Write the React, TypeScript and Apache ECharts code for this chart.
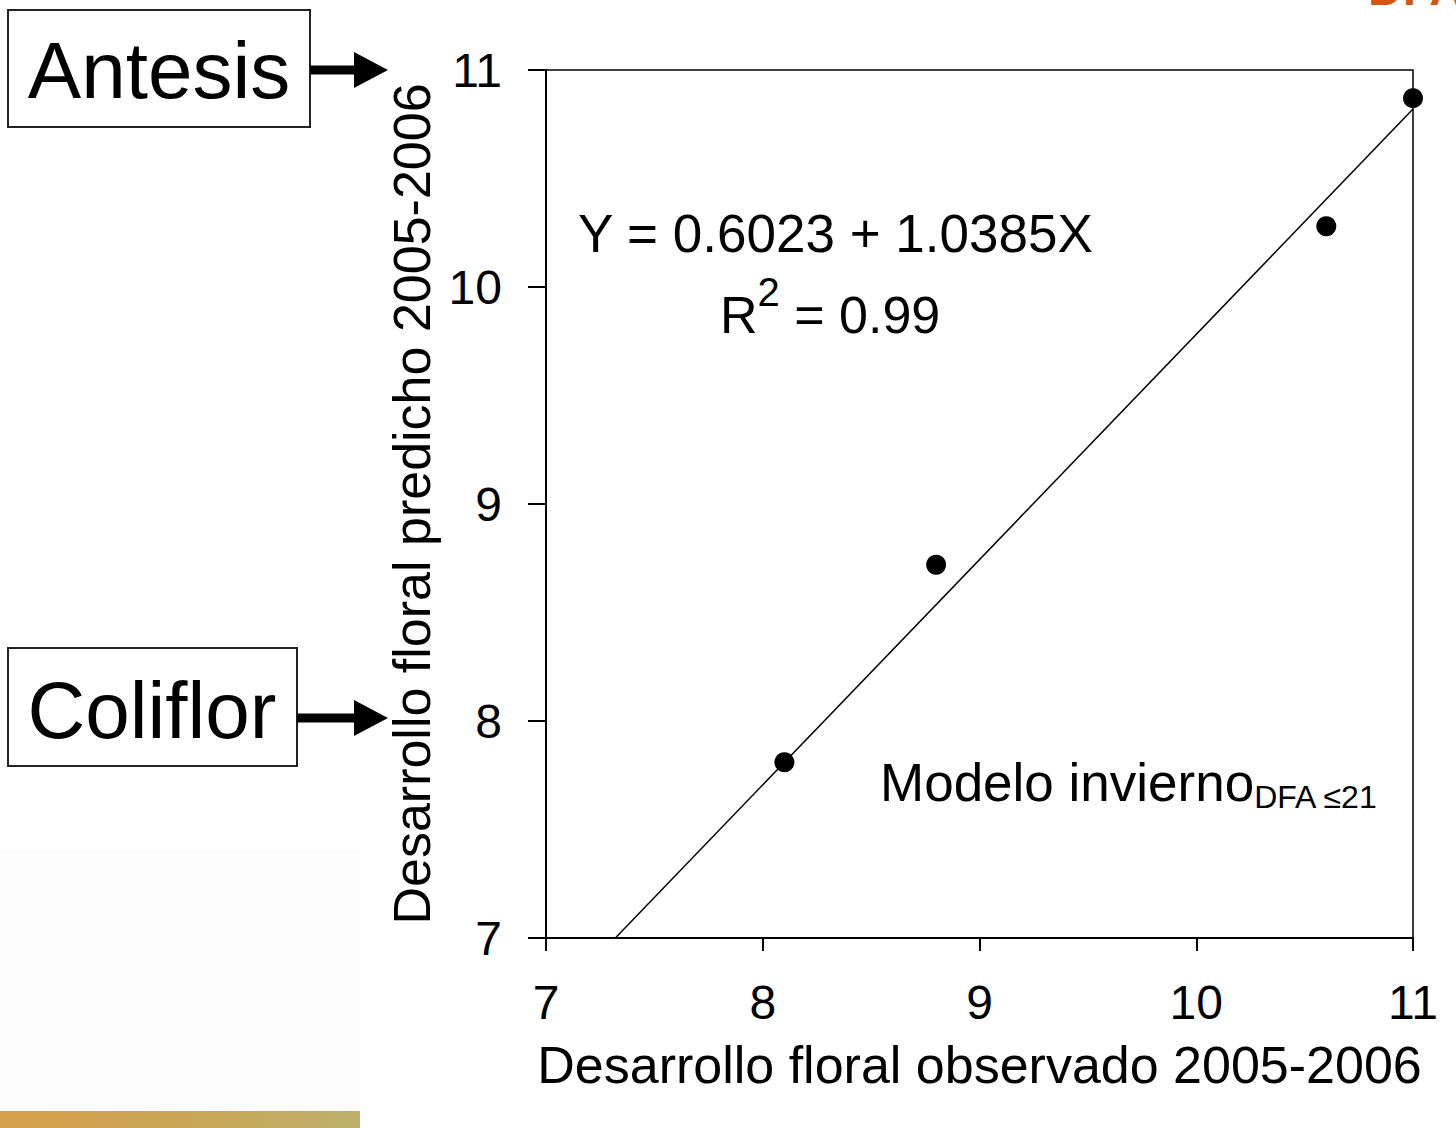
import React, { useEffect, useRef } from "react";
import * as echarts from "echarts";

// ---- data ----
const observed = [8.1, 8.8, 10.6, 11.0];
const predicted = [7.81, 8.72, 10.28, 10.87];
const fitX = [7.32, 11.0];
const fitY = [7.0, 10.82];
const axisMin = 7;
const axisMax = 11;
const axisStep = 1;
const equationText = "Y = 0.6023 + 1.0385X";
const r2Value = "0.99";
const modelLabel = "Modelo invierno";
const modelSub = "DFA ≤21";
const xTitle = "Desarrollo floral observado 2005-2006";
const yTitle = "Desarrollo floral predicho 2005-2006";
const calloutLabels = ["Antesis", "Coliflor"];
const cornerText = "DFA";

const FONT = "'Liberation Sans', Arial, sans-serif";

export default function App() {
  const ref = useRef<HTMLDivElement | null>(null);

  useEffect(() => {
    if (!ref.current) return;
    const chart = echarts.init(ref.current, undefined, { renderer: "svg" });

    const arrow = (y: number, x0: number) => [
      {
        type: "rect",
        shape: { x: x0, y: y - 4.5, width: 355 - x0, height: 9 },
        style: { fill: "#000" },
      },
      {
        type: "polygon",
        shape: { points: [[354, y - 18], [388, y], [354, y + 18]] },
        style: { fill: "#000" },
      },
    ];

    const txt = (x: number, y: number, text: string, fontSize: number, align = "left", extra: any = {}) => ({
      type: "text",
      x,
      y,
      style: {
        text,
        fontSize,
        fontFamily: FONT,
        fill: "#000",
        align,
        textAlign: align,
        verticalAlign: "middle",
        textVerticalAlign: "middle",
        ...extra,
      },
    });

    const option: any = {
      animation: false,
      backgroundColor: "#ffffff",
      grid: {
        left: 546,
        right: 43,
        top: 70,
        bottom: 190,
        show: true,
        borderColor: "#000",
        borderWidth: 1.5,
        containLabel: false,
      },
      xAxis: {
        type: "value",
        min: axisMin,
        max: axisMax,
        interval: axisStep,
        axisLine: { show: true, onZero: false, lineStyle: { color: "#000", width: 2 } },
        axisTick: { show: true, inside: false, length: 13, lineStyle: { color: "#000", width: 2 } },
        axisLabel: { fontSize: 48, color: "#000", fontFamily: FONT, margin: 40 },
        splitLine: { show: false },
        name: xTitle,
        nameLocation: "middle",
        nameGap: 101,
        nameTextStyle: { fontSize: 52, color: "#000", fontFamily: FONT },
      },
      yAxis: {
        type: "value",
        min: axisMin,
        max: axisMax,
        interval: axisStep,
        axisLine: { show: true, onZero: false, lineStyle: { color: "#000", width: 2 } },
        axisTick: { show: true, inside: false, length: 18, lineStyle: { color: "#000", width: 2 } },
        axisLabel: { fontSize: 48, color: "#000", fontFamily: FONT, margin: 44 },
        splitLine: { show: false },
        name: yTitle,
        nameLocation: "middle",
        nameGap: 98,
        nameTextStyle: { fontSize: 52, color: "#000", fontFamily: FONT },
      },
      series: [
        {
          type: "line",
          data: fitX.map((x, i) => [x, fitY[i]]),
          showSymbol: false,
          symbol: "none",
          lineStyle: { color: "#000", width: 1.5 },
          z: 2,
        },
        {
          type: "scatter",
          data: observed.map((x, i) => [x, predicted[i]]),
          symbolSize: 20,
          itemStyle: { color: "#000", opacity: 1 },
          z: 3,
        },
      ],
      graphic: [
        {
          type: "rect",
          shape: { x: 0, y: 850, width: 360, height: 262 },
          style: { fill: "#fdfdfd" },
          z: -10,
        },
        {
          type: "rect",
          shape: { x: 0, y: 1111, width: 360, height: 17 },
          style: {
            fill: new echarts.graphic.LinearGradient(0, 0, 1, 0, [
              { offset: 0, color: "#d7a04c" },
              { offset: 0.5, color: "#c9a655" },
              { offset: 1, color: "#bdb06c" },
            ]),
          },
          z: -10,
        },
        {
          type: "text",
          x: 1368,
          y: 12,
          style: {
            text: cornerText,
            fontSize: 48,
            fontWeight: "bold",
            fontFamily: FONT,
            fill: "#d4560c",
            align: "left",
            textAlign: "left",
            verticalAlign: "bottom",
            textVerticalAlign: "bottom",
          },
        },
        {
          type: "rect",
          shape: { x: 8, y: 10, width: 302, height: 117 },
          style: { fill: "#fff", stroke: "#222", lineWidth: 2 },
        },
        txt(159, 70, calloutLabels[0], 80, "center"),
        ...arrow(70, 310),
        {
          type: "rect",
          shape: { x: 8, y: 648, width: 289, height: 118 },
          style: { fill: "#fff", stroke: "#222", lineWidth: 2 },
        },
        txt(152, 710, calloutLabels[1], 80, "center"),
        ...arrow(718, 297),
        txt(578, 233, equationText, 53),
        {
          type: "text",
          x: 720,
          y: 315,
          style: {
            text: "{n|R}{s|2}{n| = " + r2Value + "}",
            fontFamily: FONT,
            fill: "#000",
            align: "left",
            textAlign: "left",
            verticalAlign: "middle",
            textVerticalAlign: "middle",
            rich: {
              n: { fontSize: 52, fontFamily: FONT, fill: "#000", color: "#000", lineHeight: 86, verticalAlign: "middle" },
              s: { fontSize: 40, fontFamily: FONT, fill: "#000", color: "#000", lineHeight: 86, verticalAlign: "top" },
            },
          },
        },
        {
          type: "text",
          x: 880,
          y: 782,
          style: {
            text: "{n|" + modelLabel + "}{s|" + modelSub + "}",
            fontFamily: FONT,
            fill: "#000",
            align: "left",
            textAlign: "left",
            verticalAlign: "middle",
            textVerticalAlign: "middle",
            rich: {
              n: { fontSize: 53, fontFamily: FONT, fill: "#000", color: "#000", lineHeight: 62, verticalAlign: "middle" },
              s: { fontSize: 32, fontFamily: FONT, fill: "#000", color: "#000", lineHeight: 62, verticalAlign: "bottom" },
            },
          },
        },
      ],
    };

    chart.setOption(option);
    return () => chart.dispose();
  }, []);

  return (
    <div
      ref={ref}
      style={{ position: "fixed", left: 0, top: 0, width: 1456, height: 1128, background: "#fff" }}
    />
  );
}
